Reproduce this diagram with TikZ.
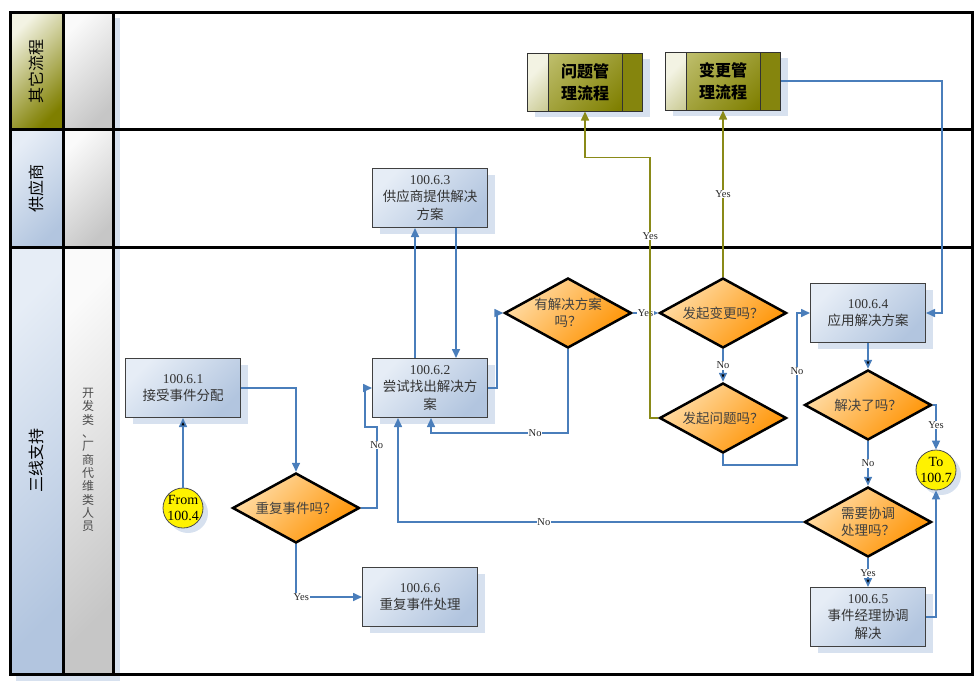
\documentclass[tikz,border=0pt]{standalone}
\usepackage{fontspec}
\setmainfont{Liberation Serif}
\newfontfamily\cjk{Noto Sans CJK SC}
\usepackage{tikz}
\usetikzlibrary{shapes,shapes.geometric,shadows,arrows.meta,calc,positioning}

\definecolor{boxtop}{HTML}{E6EDF6}
\definecolor{boxbot}{HTML}{B2C5DF}
\definecolor{shadowblue}{HTML}{D7E1EF}
\definecolor{dectop}{HTML}{FFDDA8}
\definecolor{decbot}{HTML}{FF9200}
\definecolor{olivedark}{HTML}{7F7F00}
\definecolor{olivelight}{HTML}{BDBD6A}
\definecolor{olivepale}{HTML}{F3F3E3}
\definecolor{flowblue}{HTML}{4A7EBB}
\definecolor{flowolive}{HTML}{8A8A18}
\definecolor{graytop}{HTML}{FAFAFA}
\definecolor{graybot}{HTML}{C6C6C6}

\tikzstyle{procbox}=[draw=black!75, line width=1pt, rectangle, minimum width=115pt, minimum height=59pt, top color=boxtop, bottom color=boxbot, shading angle=45, align=center, text=black!80, font=\cjk\fontsize{13.5}{17.5}\selectfont, drop shadow={shadow xshift=7pt, shadow yshift=-6pt, fill=shadowblue, opacity=1}]
\tikzstyle{decision}=[diamond, draw=black, line width=2.5pt, minimum width=127pt, minimum height=70pt, inner sep=0pt, shape aspect=1.8, top color=dectop, bottom color=decbot, shading angle=45, align=center, text=black!75, font=\cjk\fontsize{13.5}{17.5}\selectfont]
\tikzstyle{offpage}=[circle, draw=black!70, line width=0.8pt, fill=yellow, minimum size=40pt, inner sep=0pt, drop shadow={shadow xshift=5pt, shadow yshift=-5pt, fill=shadowblue, opacity=1}]
\tikzstyle{otherproc}=[draw=black!80, line width=1pt, rectangle, minimum width=115pt, minimum height=58pt, top color=olivelight, bottom color=olivedark, shading angle=45, align=center, font=\cjk\bfseries\fontsize{16}{22}\selectfont, drop shadow={shadow xshift=7pt, shadow yshift=-6pt, fill=shadowblue, opacity=1},
  path picture={
    \shade[top color=olivepale, bottom color=olivedark!85, shading angle=45] (path picture bounding box.north west) rectangle ([xshift=21pt]path picture bounding box.south west);
    \fill[olivedark!95] ([xshift=-20pt]path picture bounding box.north east) rectangle (path picture bounding box.south east);
    \draw[black!80, line width=1pt] ([xshift=21pt]path picture bounding box.north west) -- ([xshift=21pt]path picture bounding box.south west);
    \draw[black!80, line width=1pt] ([xshift=-20pt]path picture bounding box.north east) -- ([xshift=-20pt]path picture bounding box.south east);
  }]
\tikzstyle{lanetitle}=[rotate=90, font=\cjk\fontsize{16}{16}\selectfont]
\tikzstyle{lab}=[fill=white, inner sep=0.6pt, text=black!85, font=\fontsize{10.5}{12}\selectfont]
\tikzstyle{flow}=[draw=flowblue, line width=1.6pt, ->]
\tikzstyle{oflow}=[draw=flowolive, line width=1.6pt, ->]

\begin{document}
\begin{tikzpicture}[x=1pt, y=-1pt, >={Triangle[length=9pt,width=8pt]}]
    \useasboundingbox (0,0) rectangle (979,683);

    % lane headers
    \fill[shadowblue] (16,18) rectangle (120,681);
    \shade[top color=olivepale, bottom color=olivedark, shading angle=45] (10,12.5) rectangle (63,129);
    \shade[top color=boxtop, bottom color=boxbot, shading angle=45] (10,129) rectangle (63,247);
    \shade[top color=boxtop, bottom color=boxbot, shading angle=45] (10,247) rectangle (63,674);
    \shade[top color=graytop, bottom color=graybot, shading angle=45] (63,12.5) rectangle (113,129);
    \shade[top color=graytop, bottom color=graybot, shading angle=45] (63,129) rectangle (113,247);
    \shade[top color=graytop, bottom color=graybot, shading angle=45] (63,247) rectangle (113,674);
    \node[lanetitle] (t1) at (36,71) {其它流程};
    \node[lanetitle] (t2) at (36,188) {供应商};
    \node[lanetitle] (t3) at (36,460) {三线支持};
    \node[align=center, text=black!70, font=\cjk\fontsize{12}{13.3}\selectfont] (t4) at (88,460) {开\\发\\类\\、\\厂\\商\\代\\维\\类\\人\\员};

    % lane borders
    \draw[line width=3pt] (10,12.5) rectangle (972,674);
    \draw[line width=3pt] (10,129) -- (972,129);
    \draw[line width=3pt] (10,247) -- (972,247);
    \draw[line width=3pt] (63,12.5) -- (63,674);
    \draw[line width=3pt] (113,12.5) -- (113,674);

    % other processes
    \node[otherproc] (o1) at (585,82) {问题管\\理流程};
    \node[otherproc] (o2) at (723,81) {变更管\\理流程};

    % steps
    \node[procbox] (p1) at (183,388) {{\rmfamily 100.6.1}\\接受事件分配};
    \node[procbox] (p2) at (430,388) {{\rmfamily 100.6.2}\\尝试找出解决方\\案};
    \node[procbox] (p3) at (430,198) {{\rmfamily 100.6.3}\\供应商提供解决\\方案};
    \node[procbox] (p4) at (868,313) {{\rmfamily 100.6.4}\\应用解决方案};
    \node[procbox] (p5) at (868,617) {{\rmfamily 100.6.5}\\事件经理协调\\解决};
    \node[procbox] (p6) at (420,597) {{\rmfamily 100.6.6}\\重复事件处理};

    % decisions
    \node[decision] (d1) at (296,508) {重复事件吗？};
    \node[decision] (d2) at (568,313) {有解决方案\\吗？};
    \node[decision] (d3) at (723,313) {发起变更吗？};
    \node[decision] (d4) at (723,418) {发起问题吗？};
    \node[decision] (d5) at (868,405) {解决了吗？};
    \node[decision] (d6) at (868,522) {需要协调\\处理吗？};

    % off-page connectors
    \node[offpage, label={[align=center, font=\fontsize{14}{16}\selectfont]center:From\\100.4}] (c1) at (183,508) {};
    \node[offpage, label={[align=center, font=\fontsize{14}{16}\selectfont]center:To\\100.7}] (c2) at (936,470) {};

    % straight connectors
    \path[flow] (c1) edge (p1)
                (p4) edge (d5)
                (d2) edge node[lab]{Yes} (d3)
                (d3) edge node[lab]{No} (d4)
                (d5) edge node[lab]{No} (d6)
                (d6) edge node[lab]{Yes} (p5);

    % bent connectors
    \draw[flow] (p1.east) -| (d1.north);
    \draw[flow] (d1.east) -- ++(16,0) -- node[lab, pos=0.78]{No} ++(0,-81) -- ++(-12,0) |- (p2.west);
    \draw[flow] ([xshift=-15pt]p2.north) -- ([xshift=-15pt]p3.south);
    \draw[flow] ([xshift=26pt]p3.south) -- ([xshift=26pt]p2.north);
    \draw[flow] (p2.east) -- ++(9,0) |- (d2.west);
    \draw[flow] (d2.south) |- node[lab, pos=0.62]{No} ([xshift=1pt, yshift=-15pt]p2.south) -- ([xshift=1pt]p2.south);
    \draw[oflow] (d3.north) -- node[lab]{Yes} (o2.south);
    \draw[oflow] (d4.west) -- ++(-8,0) |- node[lab, pos=0.35]{Yes} ([yshift=-46pt]o1.south) -- (o1.south);
    \draw[flow] (d4.south) -- ++(0,11) -- ++(74,0) |- node[lab, pos=0.31]{No} (p4.west);
    \draw[flow] (o2.east) -- ++(161,0) |- (p4.east);
    \draw[flow] (d5.east) -| node[lab, pos=0.72]{Yes} (c2.north);
    \draw[flow] (d6.west) -| node[lab, pos=0.32]{No} ([xshift=-32pt]p2.south);
    \draw[flow] (p5.east) -| (c2.south);
    \draw[flow] (d1.south) |- node[lab, pos=0.54]{Yes} (p6.west);
\end{tikzpicture}
\end{document}
